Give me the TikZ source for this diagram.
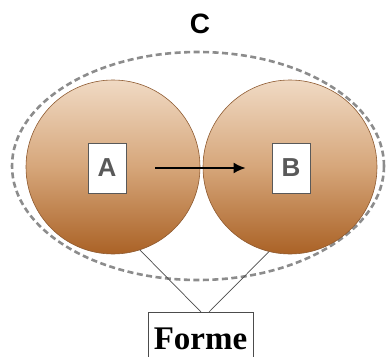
\documentclass[tikz,border=0pt]{standalone}
\usepackage{fontspec}
\newfontfamily\arialfont{Liberation Sans}
\newfontfamily\timesfont{Liberation Serif}
\usepackage{tikz}
\usetikzlibrary{arrows.meta,shapes}
\pgfdeclarelayer{background}
\pgfsetlayers{background,main}
\definecolor{tanlight}{HTML}{F0DAC4}
\definecolor{tanmid}{HTML}{D6A67A}
\definecolor{tandark}{HTML}{AA6226}
\definecolor{tanedge}{HTML}{8E5A30}
\tikzstyle{ball}=[circle,minimum size=174pt,inner sep=0pt,draw=tanedge,line width=0.6pt,top color=tanlight,bottom color=tandark,middle color=tanmid]
\tikzstyle{letter box}=[rectangle,draw=gray!70!black,fill=white,line width=0.8pt,minimum width=38pt,minimum height=50pt,inner sep=0pt,font=\arialfont\bfseries\fontsize{26}{26}\selectfont,text=black!65]
\tikzstyle{form box}=[rectangle,draw=gray!60!black,fill=white,line width=0.8pt,minimum width=105pt,minimum height=52pt,inner sep=0pt,font=\timesfont\bfseries\fontsize{33}{33}\selectfont]
\tikzstyle{ring}=[draw=gray!90,line width=2.6pt,dash pattern=on 6pt off 3.5pt]
\tikzstyle{link}=[draw=gray!60!black,line width=0.7pt,-]

\begin{document}
\begin{tikzpicture}[x=1pt,y=-1pt]
    \useasboundingbox (0,0) rectangle (388,356);
    \clip (0,0) rectangle (388,356);
    % the two spheres with their labels
    \foreach \pos/\name in {{(113,167)/ballA}, {(290,167)/ballB}}
        \node[ball] (\name) at \pos {};
    \foreach \pos/\name in {{(107,168)/A}, {(291,168)/B}}
        \node[letter box] (\name) at \pos {\name};
    \node[font=\arialfont\bfseries\fontsize{28}{28}\selectfont] (C) at (200,24) {C};
    \node[form box,anchor=north] (forme) at (200.5,312) {\raisebox{-4pt}{Forme}};
    % dashed outline round both spheres
    \begin{pgfonlayer}{background}
        \draw[ring] (198,166) ellipse [x radius=186pt, y radius=114pt];
    \end{pgfonlayer}
    % arrow and connectors
    \draw[-{Latex[length=12pt,width=11pt]},line width=1.8pt,shorten <=29pt,shorten >=26pt] (A) -- (B);
    \path[link] (ballA.-72) -- ([xshift=0.5pt]forme.north);
    \path[link] (ballB.-104) -- ([xshift=8.5pt]forme.north);
\end{tikzpicture}
\end{document}
